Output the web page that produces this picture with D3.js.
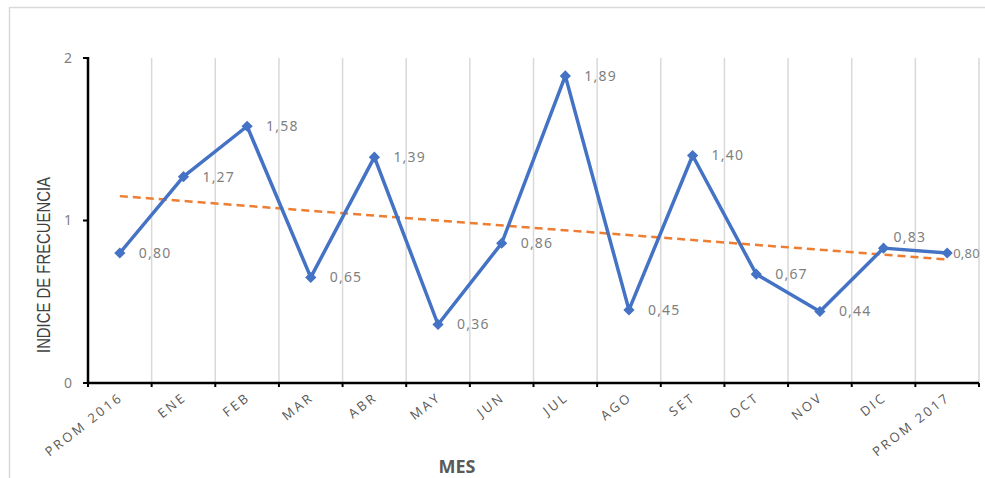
<!DOCTYPE html>
<html>
<head>
  <meta charset="utf-8">
  <script src="https://d3js.org/d3.v7.min.js"></script>
  <style>
    body { margin: 0; background: #fff; }
    svg { display: block; }
  </style>
</head>
<body>
<script>
  "use strict";

  // data
  var meses = ["PROM 2016", "ENE", "FEB", "MAR", "ABR", "MAY", "JUN",
               "JUL", "AGO", "SET", "OCT", "NOV", "DIC", "PROM 2017"];
  var indice = [0.80, 1.27, 1.58, 0.65, 1.39, 0.36, 0.86,
                1.89, 0.45, 1.40, 0.67, 0.44, 0.83, 0.80];
  var tendencia = [1.15, 0.76];   // linear trend, first and last category
  var yTicks = [0, 1, 2];

  var W = 985, H = 478;
  var plotL = 88, plotR = 979, plotT = 58, plotB = 383;

  var svg = d3.select("body").append("svg")
      .attr("width", W)
      .attr("height", H);

  // chart border
  svg.append("rect")
      .attr("x", 9.5).attr("y", 7.5)
      .attr("width", 990).attr("height", 480)
      .attr("fill", "none")
      .attr("stroke", "#d9d9d9")
      .attr("stroke-width", 1.5);

  var x = d3.scaleBand().domain(meses).range([plotL, plotR]);
  var y = d3.scaleLinear().domain([0, 2]).range([plotB, plotT]);
  var cx = function (d) { return x(d) + x.bandwidth() / 2; };

  // vertical gridlines at category boundaries
  svg.append("g").selectAll("line")
    .data(meses)
    .enter().append("line")
      .attr("x1", function (d) { return x(d) + x.bandwidth(); })
      .attr("x2", function (d) { return x(d) + x.bandwidth(); })
      .attr("y1", plotT).attr("y2", plotB)
      .attr("stroke", "#d9d9d9")
      .attr("stroke-width", 1.5);

  // axes
  var ax = svg.append("g").attr("stroke", "#000");
  ax.append("line")
      .attr("x1", plotL).attr("x2", plotR)
      .attr("y1", plotB).attr("y2", plotB)
      .attr("stroke-width", 2.5);
  ax.append("line")
      .attr("x1", plotL).attr("x2", plotL)
      .attr("y1", plotT - 1).attr("y2", plotB)
      .attr("stroke-width", 2.5);
  ax.selectAll(".xt")
    .data([meses[0]].concat(meses))
    .enter().append("line")
      .attr("x1", function (d, i) { return i === 0 ? plotL : x(d) + x.bandwidth(); })
      .attr("x2", function (d, i) { return i === 0 ? plotL : x(d) + x.bandwidth(); })
      .attr("y1", plotB).attr("y2", plotB + 4)
      .attr("stroke-width", 2);
  ax.selectAll(".yt")
    .data(yTicks)
    .enter().append("line")
      .attr("x1", plotL - 5).attr("x2", plotL)
      .attr("y1", function (d) { return y(d); })
      .attr("y2", function (d) { return y(d); })
      .attr("stroke-width", 2);

  svg.append("g").selectAll("text")
    .data(yTicks)
    .enter().append("text")
      .attr("x", 72)
      .attr("y", function (d) { return y(d); })
      .attr("dy", "0.35em")
      .attr("text-anchor", "end")
      .style("font-family", "'Noto Sans', sans-serif")
      .style("font-size", "14px")
      .style("fill", "#7f7f7f")
      .text(function (d) { return d; });

  // category labels, rotated
  svg.append("g").selectAll("text")
    .data(meses)
    .enter().append("text")
      .attr("transform", function (d) {
        return "translate(" + (cx(d) + 4) + "," + (plotB + 16) + ") rotate(-38)";
      })
      .attr("text-anchor", "end")
      .style("font-family", "'Open Sans', sans-serif")
      .style("font-size", "13px")
      .style("letter-spacing", "2.6px")
      .style("fill", "#595959")
      .text(function (d) { return d; });

  // trend line
  svg.append("line")
      .attr("x1", cx(meses[0]))
      .attr("x2", cx(meses[meses.length - 1]))
      .attr("y1", y(tendencia[0]))
      .attr("y2", y(tendencia[1]))
      .attr("stroke", "#ed7d31")
      .attr("stroke-width", 2.5)
      .attr("stroke-dasharray", "8,5");

  // series line
  var line = d3.line()
      .x(function (d, i) { return cx(meses[i]); })
      .y(function (d) { return y(d); });

  svg.append("path")
      .datum(indice)
      .attr("d", line)
      .attr("fill", "none")
      .attr("stroke", "#4472c4")
      .attr("stroke-width", 3.5)
      .attr("stroke-linejoin", "round");

  svg.append("g").selectAll("path")
    .data(indice)
    .enter().append("path")
      .attr("d", d3.symbol().type(d3.symbolDiamond2).size(80))
      .attr("transform", function (d, i) {
        return "translate(" + cx(meses[i]) + "," + y(d) + ")";
      })
      .attr("fill", "#4472c4");

  // data labels (last one squeezed so it stays inside the frame)
  var last = indice.length - 1;
  svg.append("g").selectAll("text")
    .data(indice)
    .enter().append("text")
      .attr("x", function (d, i) {
        return cx(meses[i]) + (i === last ? 6 : (i === last - 1 ? 10 : 19));
      })
      .attr("y", function (d, i) { return y(d) + (i === last - 1 ? -11 : 0); })
      .attr("dy", "0.35em")
      .style("font-family", "'Noto Sans', sans-serif")
      .style("font-size", function (d, i) { return i === last ? "13px" : "14px"; })
      .style("letter-spacing", function (d, i) { return i === last ? "0.2px" : "1.2px"; })
      .style("fill", "#7f7f7f")
      .text(function (d) { return d.toFixed(2).replace(".", ","); });

  // axis titles
  svg.append("text")
      .attr("x", 457).attr("y", 473)
      .attr("text-anchor", "middle")
      .style("font-family", "'Open Sans', sans-serif")
      .style("font-size", "18px")
      .style("font-weight", "bold")
      .style("fill", "#595959")
      .text("MES");

  svg.append("text")
      .attr("transform", "translate(50,265) rotate(-90)")
      .attr("text-anchor", "middle")
      .attr("textLength", 176)
      .attr("lengthAdjust", "spacingAndGlyphs")
      .style("font-family", "'Liberation Sans Narrow', 'Liberation Sans', sans-serif")
      .style("font-size", "19px")
      .style("fill", "#404040")
      .text("INDICE DE FRECUENCIA");
</script>
</body>
</html>
